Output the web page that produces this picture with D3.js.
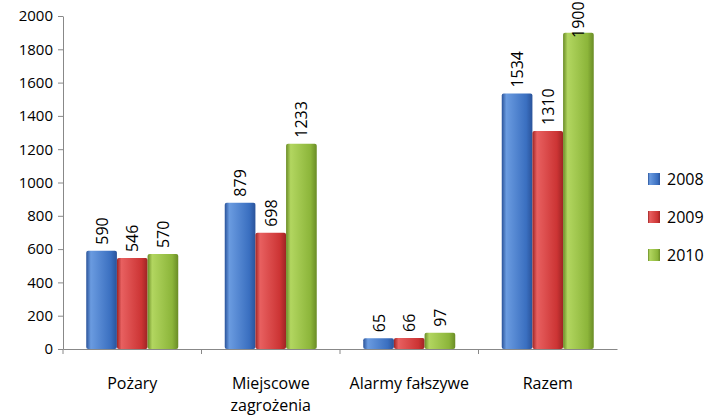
<!DOCTYPE html>
<html><head><meta charset="utf-8">
<script src="https://cdn.jsdelivr.net/npm/d3@7"></script>
<style>body{margin:0;background:#fff}text{font-family:"Open Sans","Liberation Sans",sans-serif;fill:#000}</style>
</head><body><svg id="c" width="712" height="417"></svg>
<script>
const categories = [["Pożary"], ["Miejscowe", "zagrożenia"], ["Alarmy fałszywe"], ["Razem"]];
const years = ["2008", "2009", "2010"];
const v2008 = [590, 879, 65, 1534];
const v2009 = [546, 698, 66, 1310];
const v2010 = [570, 1233, 97, 1900];
const yTicks = [0, 200, 400, 600, 800, 1000, 1200, 1400, 1600, 1800, 2000];
const colors = [["#6a9be0", "#3a6fc0", "#2a539a"], ["#e86060", "#cc3434", "#9e2424"], ["#b2d660", "#8cb53a", "#6a8c26"]];

const series = [v2008, v2009, v2010];
const svg = d3.select("#c");
const defs = svg.append("defs");
colors.forEach((c, i) => {
  const g = defs.append("linearGradient").attr("id", "g" + i);
  g.append("stop").attr("offset", "0%").attr("stop-color", c[2]);
  g.append("stop").attr("offset", "15%").attr("stop-color", c[0]);
  g.append("stop").attr("offset", "80%").attr("stop-color", c[1]);
  g.append("stop").attr("offset", "100%").attr("stop-color", c[2]);
});

const x0 = d3.scaleBand().domain(d3.range(4)).range([63, 617]);
const x1 = d3.scaleBand().domain(d3.range(3)).range([0, 92]);
const y = d3.scaleLinear().domain([0, 2000]).range([349, 16]);

svg.append("g").attr("transform", "translate(63,0)")
  .call(d3.axisLeft(y).tickValues(yTicks).tickFormat(d3.format("d")).tickSize(5).tickSizeOuter(0))
  .call(g => { g.selectAll("text").style("font-size", "15px").attr("dx", "-2"); g.selectAll("path,line").attr("stroke", "#888"); });
svg.append("g").attr("transform", "translate(0,349)")
  .call(d3.axisBottom(x0).tickSize(5).tickSizeOuter(0).tickFormat(""))
  .call(g => g.selectAll("path,line").attr("stroke", "#888"))
  .call(g => g.selectAll(".tick line").attr("transform", `translate(${-x0.bandwidth() / 2},0)`));

const grp = svg.selectAll(".grp").data(d3.range(4)).join("g")
  .attr("transform", i => `translate(${x0(i) + x0.bandwidth() / 2 - 46},0)`);
series.forEach((s, k) => {
  grp.append("rect").attr("x", x1(k)).attr("width", x1.bandwidth())
    .attr("y", i => y(s[i])).attr("height", i => 349 - y(s[i]))
    .attr("rx", 2).attr("fill", `url(#g${k})`);
  grp.append("text").attr("transform", i => `translate(${x1(k) + x1.bandwidth() / 2 + 6},${Math.max(y(s[i]) - 6, 38)}) rotate(-90)`)
    .style("font-size", "16px").text(i => s[i]);
});

grp.append("text").attr("x", 46).attr("y", 389).attr("text-anchor", "middle").style("font-size", "16px")
  .selectAll("tspan").data(i => categories[i]).join("tspan")
  .attr("x", 46).attr("dy", (d, j) => j ? 22 : 0).text(d => d);

const leg = svg.selectAll(".leg").data(years).join("g")
  .attr("transform", (d, i) => `translate(648,${173 + i * 38})`);
leg.append("rect").attr("width", 12).attr("height", 12).attr("fill", (d, i) => `url(#g${i})`);
leg.append("text").attr("x", 19).attr("y", 12).style("font-size", "16px").text(d => d);
</script></body></html>
